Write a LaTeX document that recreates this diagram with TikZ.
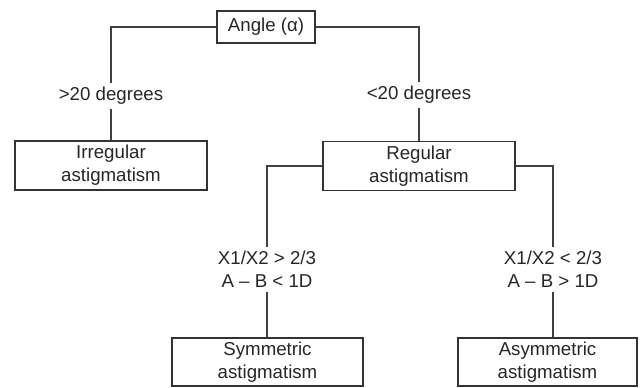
\documentclass[tikz,border=0pt]{standalone}
\usepackage{fontspec}
\setmainfont{Liberation Sans}

\begin{document}
\begin{tikzpicture}[x=0.75pt,y=-0.75pt,line width=1.1pt,draw=black!75,
  box/.style={draw=black!80,line width=1.1pt,align=center,inner sep=0pt,
    minimum width=#1,minimum height=37pt},
  cond/.style={align=center,inner xsep=2pt,inner ysep=2.6pt},
  every node/.style={text=black!85,font=\fontsize{14}{17.25}\selectfont}]
\useasboundingbox (0,0) rectangle (640,388);
% ---------- top ----------
\node[box=73.5pt,minimum height=24pt] (angle) at (266,27) {Angle (α)};
\node[cond] (gt) at (111,96) {>20 degrees};
\node[cond] (lt) at (419,95) {<20 degrees};
\node[box=144pt] (irr) at (111,165.5) {Irregular\\astigmatism};
\node[box=144pt] (reg) at (419,166) {Regular\\astigmatism};
% ---------- bottom ----------
\node[cond] (c1) at (267,269.5) {X1/X2 > 2/3\\A -- B < 1D};
\node[cond] (c2) at (553,269.5) {X1/X2 < 2/3\\A -- B > 1D};
\node[box=143.25pt,minimum height=36pt] (sym) at (267.5,362) {Symmetric\\astigmatism};
\node[box=134.25pt,minimum height=36pt] (asym) at (547.5,362) {Asymmetric\\astigmatism};
% connectors
\draw (angle.west) -| (gt.north);
\draw (gt.south) -- (irr.north);
\draw (angle.east) -| (lt.north);
\draw (lt.south) -- (reg.north);
\draw (reg.west) -| (c1.north);
\draw (c1.south) -- (c1.south |- sym.north);
\draw (reg.east) -| (c2.north);
\draw (c2.south) -- (c2.south |- asym.north);
\end{tikzpicture}
\end{document}
